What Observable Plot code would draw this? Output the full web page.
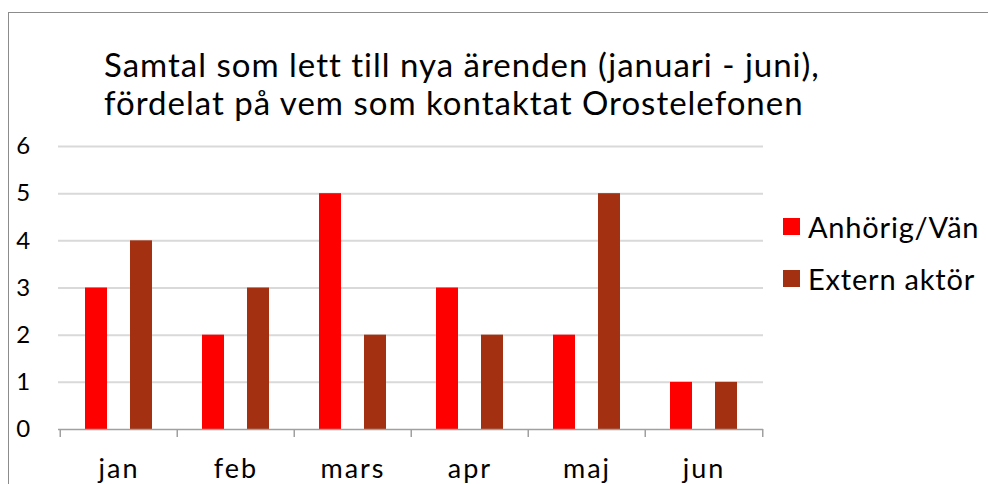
<!DOCTYPE html>
<html>
<head>
<meta charset="utf-8">
<script src="https://cdn.jsdelivr.net/npm/d3@7"></script>
<script src="https://cdn.jsdelivr.net/npm/@observablehq/plot@0.6"></script>
<style>
  html, body { margin: 0; padding: 0; background: #fff; overflow: hidden; }
  body { width: 988px; height: 484px; position: relative; font-family: Lato, "Open Sans", sans-serif; color: #000; }
  #frame { position: absolute; left: 8px; top: 12px; width: 2000px; height: 2000px; border: 1px solid #8c8c8c; box-sizing: border-box; }
  #chart { position: absolute; left: 0; top: 0; }
  #title { position: absolute; left: 104px; top: 45px; font-size: 33px; line-height: 38px; letter-spacing: 1px; white-space: nowrap; }
  #legend { position: absolute; left: 783px; top: 200px; font-size: 29px; letter-spacing: 0.8px; }
  .item { display: flex; align-items: center; height: 52px; white-space: nowrap; }
  .sw { width: 17px; height: 17px; margin-right: 8px; }
</style>
</head>
<body>
<div id="frame"></div>
<div id="chart"></div>
<div id="title">Samtal som lett till nya ärenden (januari - juni),<br>fördelat på vem som kontaktat Orostelefonen</div>
<div id="legend"></div>
<script>
const months = ["jan", "feb", "mars", "apr", "maj", "jun"];
const seriesNames = ["Anhörig/Vän", "Extern aktör"];
const anhorig = [3, 2, 5, 3, 2, 1];
const extern = [4, 3, 2, 2, 5, 1];
const yTicks = [0, 1, 2, 3, 4, 5, 6];
const colors = ["#FF0000", "#A33011"];

const W = 988, H = 484;
const mL = 58, mR = 225, mT = 146, mB = 55;
const bw = (W - mL - mR) / months.length;

const rowsA = months.map((m, i) => ({month: m, value: anhorig[i]}));
const rowsE = months.map((m, i) => ({month: m, value: extern[i]}));

const plot = Plot.plot({
  width: W, height: H,
  marginLeft: mL, marginRight: mR, marginTop: mT, marginBottom: mB,
  style: {fontFamily: "Lato, 'Open Sans', sans-serif", color: "#000", background: "transparent"},
  x: {domain: months, padding: 0, axis: null},
  y: {domain: [0, 6], axis: null},
  marks: [
    Plot.ruleY(yTicks.filter(d => d > 0), {stroke: "#D9D9D9", strokeWidth: 2}),
    Plot.barY(rowsA, {x: "month", y: "value", fill: colors[0], insetLeft: 25, insetRight: 70}),
    Plot.barY(rowsE, {x: "month", y: "value", fill: colors[1], insetLeft: 70, insetRight: 25}),
    Plot.ruleY([0], {stroke: "#A0A0A0", strokeWidth: 1.5}),
    Plot.ruleX(months, {x: d => d, y1: 0, y2: 0, insetBottom: -8, dx: -bw / 2, stroke: "#A0A0A0", strokeWidth: 1.5}),
    Plot.ruleX(months.slice(-1), {x: d => d, y1: 0, y2: 0, insetBottom: -8, dx: bw / 2, stroke: "#A0A0A0", strokeWidth: 1.5}),
    Plot.text(yTicks, {x: () => months[0], y: d => d, text: d => String(d), dx: -bw / 2 - 30, textAnchor: "end", fontSize: 24, fill: "#000"}),
    Plot.text(months, {x: d => d, y: 0, text: d => d, dy: 40, fontSize: 27, fill: "#000", lineAnchor: "middle", style: "letter-spacing:2px"})
  ]
});
document.getElementById("chart").appendChild(plot);
plot.querySelectorAll("text").forEach(t => { if (months.includes(t.textContent)) t.setAttribute("letter-spacing", "2"); });

const leg = document.getElementById("legend");
seriesNames.forEach((s, i) => {
  const it = document.createElement("div");
  it.className = "item";
  const sw = document.createElement("div");
  sw.className = "sw";
  sw.style.background = colors[i];
  const tx = document.createElement("span");
  tx.textContent = s;
  it.appendChild(sw); it.appendChild(tx);
  leg.appendChild(it);
});
</script>
</body>
</html>
